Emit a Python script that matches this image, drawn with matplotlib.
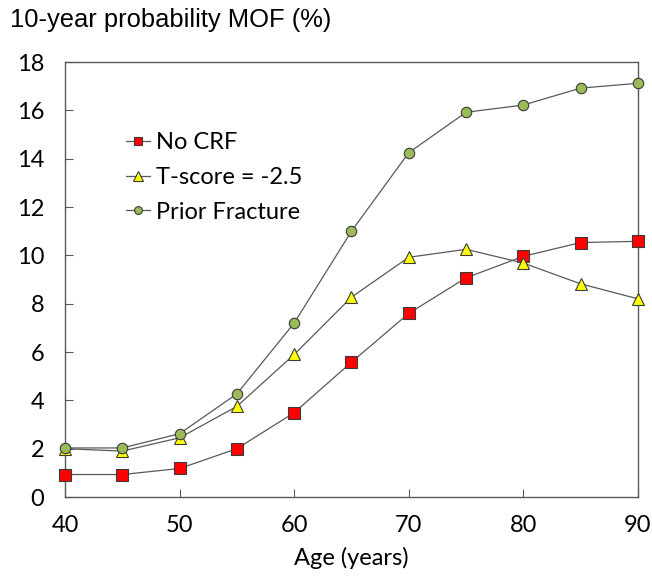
import matplotlib
matplotlib.use('Agg')
import matplotlib.pyplot as plt

plt.rcParams['font.family'] = ['Lato', 'DejaVu Sans']

# data
ages = [40, 45, 50, 55, 60, 65, 70, 75, 80, 85, 90]
no_crf = [0.93, 0.93, 1.18, 2.0, 3.49, 5.58, 7.6, 9.07, 9.96, 10.53, 10.58]
t_score = [2.0, 1.9, 2.45, 3.75, 5.9, 8.27, 9.92, 10.25, 9.68, 8.82, 8.2]
prior_fx = [2.03, 2.03, 2.62, 4.27, 7.2, 11.0, 14.25, 15.92, 16.22, 16.92, 17.12]

fig = plt.figure(figsize=(6.52, 5.79), dpi=100)
ax = fig.add_axes([0.0997, 0.1416, 0.8788, 0.7513])

line_kw = dict(color='#595959', linewidth=0.9, markeredgecolor='#3a3a3a',
               markeredgewidth=0.8, clip_on=False)
ax.plot(ages, no_crf, marker='s', markersize=8.5, markerfacecolor='#FF0000',
        label='No CRF', zorder=3, **line_kw)
ax.plot(ages, t_score, marker='^', markersize=9, markerfacecolor='#FFFF00',
        label='T-score = -2.5', zorder=4, **line_kw)
ax.plot(ages, prior_fx, marker='o', markersize=7.5, markerfacecolor='#9BBB59',
        label='Prior Fracture', zorder=5, **line_kw)

ax.set_xlim(40, 90)
ax.set_ylim(0, 18)
ax.set_xticks(range(40, 91, 10))
ax.set_yticks(range(0, 19, 2))
ax.tick_params(direction='in', length=6, width=0.8, color='#595959',
               labelsize=17, pad=15)
ax.tick_params(axis='x', pad=13)
for s in ax.spines.values():
    s.set_color('#595959')
    s.set_linewidth(1.0)

ax.set_xlabel('Age (years)', fontsize=17, labelpad=8)
fig.text(0.015, 0.965, '10-year probability MOF (%)', fontsize=18.4,
         ha='left', va='center', family=['Liberation Sans', 'DejaVu Sans'])

ax.legend(loc='upper left', bbox_to_anchor=(0.09, 0.86), frameon=False,
          fontsize=17, markerscale=0.75, handlelength=1.0, handletextpad=0.25,
          labelspacing=0.58, borderaxespad=0)

fig.savefig('out.png', dpi=100)
